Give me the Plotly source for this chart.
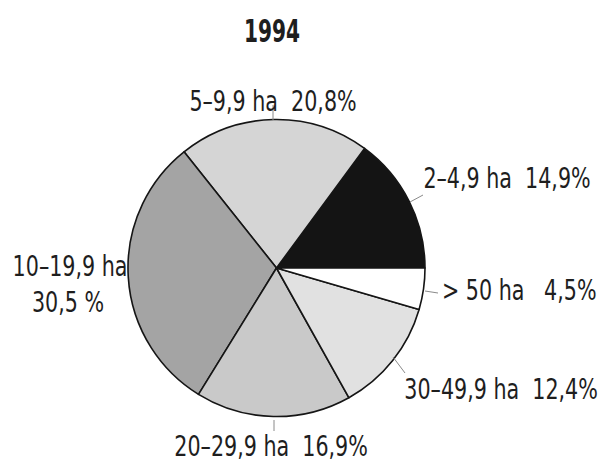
import plotly.graph_objects as go

categories = ["2–4,9 ha", "5–9,9 ha", "10–19,9 ha", "20–29,9 ha", "30–49,9 ha", "> 50 ha"]
values = [14.9, 20.8, 30.5, 16.9, 12.4, 4.5]
colors = ["#141414", "#d5d5d5", "#a4a4a4", "#c9c9c9", "#e1e1e1", "#ffffff"]
title_text = "1994"

W, H = 600, 463
FONT = "DejaVu Sans Condensed, DejaVu Sans, sans-serif"

cx, cy, r = 276.5, 268, 148.5


def px(x):
    return x / W


def py(y):
    return 1 - y / H


def pct(v, sep=""):
    return f"{v:.1f}".replace(".", ",") + sep + "%"


start = 90 - values[0] / sum(values) * 360

fig = go.Figure(go.Pie(
    labels=categories,
    values=values,
    sort=False,
    direction="counterclockwise",
    rotation=start,
    textinfo="none",
    hoverinfo="label+value",
    marker=dict(colors=colors, line=dict(color="#151515", width=1.6)),
    domain=dict(x=[px(cx - r), px(cx + r)], y=[py(cy + r), py(cy - r)]),
    showlegend=False,
))

labels = [
    (f"{categories[1]}  {pct(values[1])}", 273, 101),
    (f"{categories[0]}  {pct(values[0])}", 507, 179),
    (f"{categories[5]}   {pct(values[5])}", 519, 290),
    (f"{categories[4]}  {pct(values[4])}", 501, 389),
    (f"{categories[3]}  {pct(values[3])}", 271, 446),
    (categories[2], 70, 266),
    (pct(values[2], " "), 68, 302),
]
anns = []
for text, x, y in labels:
    anns.append(dict(text=text, x=px(x), y=py(y), xref="paper", yref="paper",
                     xanchor="center", yanchor="middle", showarrow=False,
                     font=dict(family=FONT, size=28, color="#1e1e1e")))
anns.append(dict(text=f"<b>{title_text}</b>", x=px(272), y=py(31), xref="paper", yref="paper",
                 xanchor="center", yanchor="middle", showarrow=False,
                 font=dict(family=FONT, size=32, color="#1e1e1e")))

leaders = [((273, 105), (273, 120)), ((410, 202), (423, 195)),
           ((425, 291), (438, 293)), ((393, 357), (405, 373)), ((274, 420), (274, 431))]
shapes = [dict(type="line", xref="paper", yref="paper", x0=px(a[0]), y0=py(a[1]),
               x1=px(b[0]), y1=py(b[1]), line=dict(color="#8a8a8a", width=1))
          for a, b in leaders]

fig.update_layout(width=W, height=H, margin=dict(l=0, r=0, t=0, b=0),
                  paper_bgcolor="white", plot_bgcolor="white",
                  annotations=anns, shapes=shapes)

post = """
document.body.style.margin = '0';
document.body.style.padding = '0';
document.body.style.overflow = 'hidden';
var gd = document.getElementById('{plot_id}');
function squeeze(){
  var ts = gd.querySelectorAll('.annotation-text');
  ts.forEach(function(t){
    var s = (t.textContent === '1994') ? 0.7 : 0.82;
    t.style.transformBox = 'fill-box';
    t.style.transformOrigin = 'center';
    t.style.transform = 'scaleX(' + s + ')';
  });
}
squeeze();
gd.on('plotly_afterplot', squeeze);
"""
fig.write_html("out.html", post_script=post, config={"displayModeBar": False})
